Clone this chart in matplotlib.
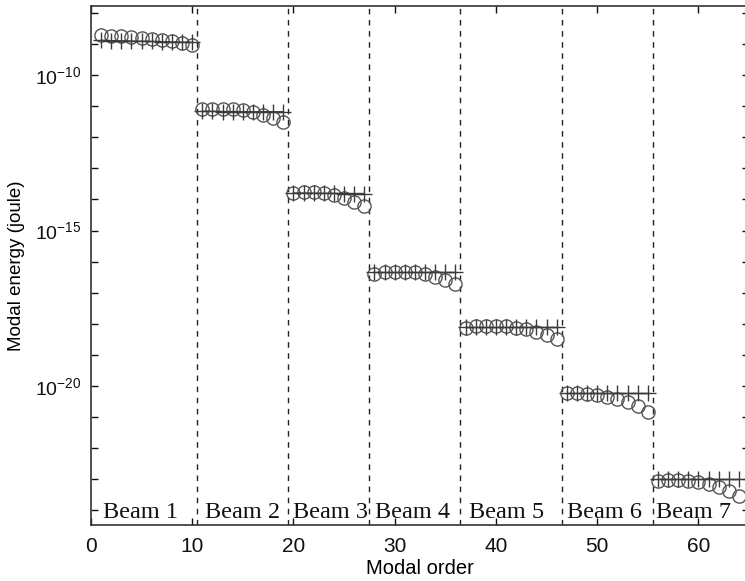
import numpy as np
import matplotlib
matplotlib.use("Agg")
import matplotlib.pyplot as plt
from matplotlib.ticker import FixedLocator, FuncFormatter
import matplotlib.transforms as mtransforms

plt.rcParams['font.family'] = ['Liberation Sans', 'DejaVu Sans']
plt.rcParams['mathtext.fontset'] = 'custom'
plt.rcParams['mathtext.rm'] = 'Liberation Sans'
plt.rcParams['mathtext.it'] = 'Liberation Sans'

# modal energies per beam (circles = computed, plus = reference)
beam_names = ["Beam 1", "Beam 2", "Beam 3", "Beam 4", "Beam 5", "Beam 6", "Beam 7"]
beam_sizes = [10, 9, 8, 9, 10, 9, 9]
circle_vals = [
    [1.9e-9, 1.8e-9, 1.75e-9, 1.65e-9, 1.55e-9, 1.45e-9, 1.35e-9, 1.25e-9, 1.1e-9, 9.0e-10],
    [8.0e-12, 8.3e-12, 8.3e-12, 8.0e-12, 7.3e-12, 6.3e-12, 5.3e-12, 4.3e-12, 3.0e-12],
    [1.6e-14, 1.75e-14, 1.75e-14, 1.6e-14, 1.4e-14, 1.15e-14, 8.5e-15, 6.0e-15],
    [4.0e-17, 4.5e-17, 4.8e-17, 4.8e-17, 4.5e-17, 4.0e-17, 3.3e-17, 2.6e-17, 1.9e-17],
    [7.5e-19, 8.3e-19, 8.7e-19, 8.7e-19, 8.3e-19, 7.6e-19, 6.7e-19, 5.6e-19, 4.4e-19, 3.2e-19],
    [6.0e-21, 6.0e-21, 5.6e-21, 5.1e-21, 4.5e-21, 3.8e-21, 3.0e-21, 2.3e-21, 1.5e-21],
    [8.5e-24, 9.5e-24, 9.5e-24, 9.0e-24, 8.0e-24, 6.8e-24, 5.5e-24, 4.2e-24, 3.0e-24],
]
plus_vals = [
    [1.3e-9, 1.28e-9, 1.26e-9, 1.24e-9, 1.22e-9, 1.2e-9, 1.18e-9, 1.16e-9, 1.14e-9, 1.12e-9],
    [6.8e-12, 6.8e-12, 6.7e-12, 6.7e-12, 6.6e-12, 6.6e-12, 6.6e-12, 6.6e-12, 6.6e-12],
    [1.6e-14, 1.6e-14, 1.58e-14, 1.57e-14, 1.56e-14, 1.55e-14, 1.55e-14, 1.55e-14],
    [4.8e-17, 4.8e-17, 4.8e-17, 4.8e-17, 4.8e-17, 4.8e-17, 4.8e-17, 4.8e-17, 4.8e-17],
    [7.8e-19, 7.8e-19, 7.8e-19, 7.8e-19, 7.8e-19, 7.8e-19, 7.8e-19, 7.8e-19, 7.8e-19, 7.8e-19],
    [5.9e-21, 5.9e-21, 5.9e-21, 5.9e-21, 5.9e-21, 5.9e-21, 5.9e-21, 5.9e-21, 5.9e-21],
    [1.0e-23, 1.0e-23, 1.0e-23, 1.0e-23, 1.0e-23, 1.0e-23, 1.0e-23, 1.0e-23, 1.0e-23],
]
boundaries = [10.5, 19.5, 27.5, 36.5, 46.5, 55.5]
label_x = [1.2, 11.3, 20.0, 28.1, 37.3, 47.0, 55.8]

fig = plt.figure(figsize=(7.45, 5.81), dpi=100)
ax = fig.add_axes([91 / 745, 56 / 581, 658 / 745, 519 / 581])
ax.set_yscale('log')

start = 1
for circ, plus, n in zip(circle_vals, plus_vals, beam_sizes):
    modes = np.arange(start, start + n)
    ax.plot(modes, plus, '-+', color='#3a3a3a', lw=1.0, ms=11, mew=1.0, zorder=3)
    ax.plot(modes, circ, 'o', mfc='none', mec='#555555', ms=9.5, mew=1.0, zorder=2)
    start += n

for b in boundaries:
    ax.axvline(b, color='#222222', lw=1.0, ls=(0, (4, 4)), zorder=1)

trans = mtransforms.blended_transform_factory(ax.transData, ax.transAxes)
for name, lx in zip(beam_names, label_x):
    ax.text(lx, 0.004, name, transform=trans, ha='left', va='bottom',
            family='Liberation Serif', fontsize=17.5, color='#111111')

ax.set_xlim(0, 65)
ax.set_ylim(10 ** -24.47, 10 ** -7.78)
ax.xaxis.set_major_locator(FixedLocator([0, 10, 20, 30, 40, 50, 60]))
ax.yaxis.set_major_locator(FixedLocator([10.0 ** k for k in range(-24, -7)]))
ax.yaxis.set_minor_locator(FixedLocator([]))

def ylab(v, pos):
    k = int(round(np.log10(v)))
    return r'$10^{%d}$' % k if k in (-10, -15, -20) else ''

ax.yaxis.set_major_formatter(FuncFormatter(ylab))
ax.tick_params(direction='in', top=True, right=True, length=5, width=1.0,
               colors='#111111')
ax.tick_params(axis='x', pad=9, labelsize=15)
ax.tick_params(axis='y', pad=7, labelsize=14)

for sp in ax.spines.values():
    sp.set_color('#333333')
    sp.set_linewidth(1.2)

ax.set_xlabel('Modal order', fontsize=14.5, labelpad=2)
ax.set_ylabel('Modal energy (joule)', fontsize=13.5)
ax.yaxis.set_label_coords(-0.1, 0.5)

fig.savefig('out.png', dpi=100)
